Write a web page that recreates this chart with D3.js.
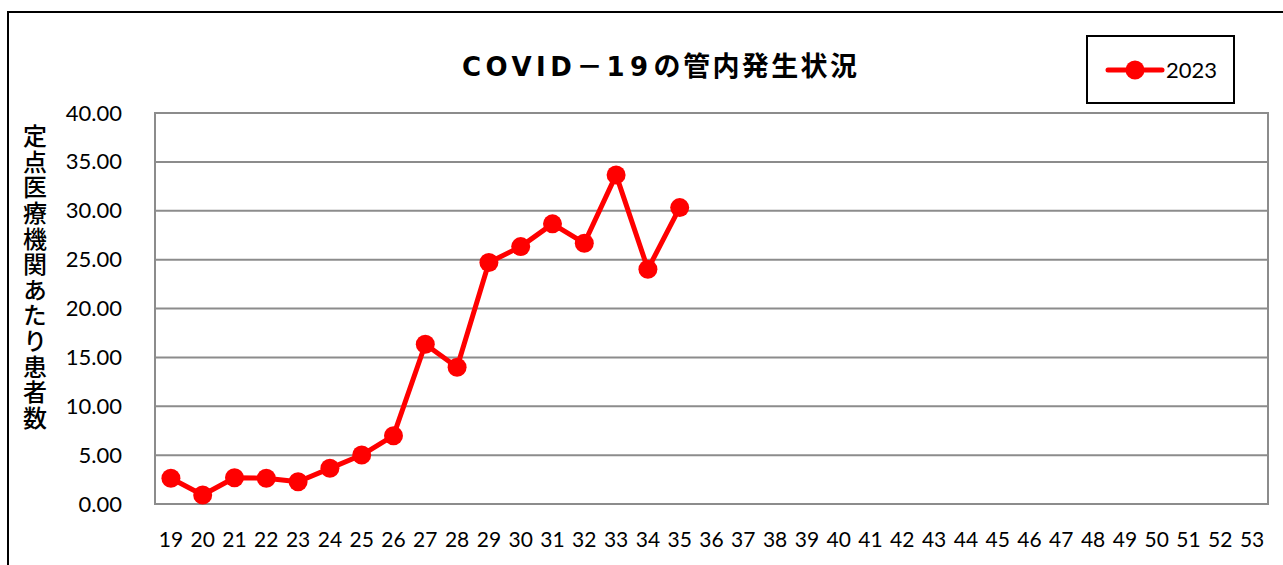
<!DOCTYPE html>
<html>
<head>
<meta charset="utf-8">
<script src="https://cdn.jsdelivr.net/npm/d3@7"></script>
<style>
  body { margin: 0; background: #fff; }
  svg { display: block; }
</style>
</head>
<body>
<div id="chart"></div>
<script>
// week numbers on the x axis
var weeks = d3.range(19, 54).map(String);
// per-sentinel counts, 2023 (weeks 19..35)
var values2023 = [2.63, 0.92, 2.69, 2.63, 2.28, 3.65, 5.01, 6.99, 16.34, 13.99, 24.70, 26.33, 28.66, 26.68, 33.67, 24.02, 30.32];
var yTicks = [0, 5, 10, 15, 20, 25, 30, 35, 40];
var seriesName = "2023";
// title split so the latin part can use a wider face
var titleParts = ["COVID", "－", "19", "の管内発生状況"];
var yTitle = "定点医療機関あたり患者数";

var W = 1283, H = 565;
var margin = {top: 113, right: 15, bottom: 61, left: 155};
var width = W - margin.left - margin.right,
    height = H - margin.top - margin.bottom;

var svg = d3.select("#chart").append("svg")
    .attr("width", W)
    .attr("height", H);

// outer chart frame
svg.append("rect")
    .attr("x", 8).attr("y", 12)
    .attr("width", W + 20).attr("height", H + 20)
    .attr("fill", "none")
    .attr("stroke", "#000")
    .attr("stroke-width", 2);

var latin = "'DejaVu Sans', sans-serif", cjk = "'Noto Sans CJK JP', sans-serif";
var tt = svg.append("text")
    .attr("x", 462).attr("y", 76)
    .style("font-weight", "bold")
    .style("font-size", "26px");
tt.selectAll("tspan").data(titleParts).enter().append("tspan")
    .style("font-family", function(d, i) { return i % 2 === 0 && i < 3 ? latin : cjk; })
    .style("font-size", function(d, i) { return i === 3 ? "27px" : null; })
    .style("letter-spacing", function(d, i) { return ["4.5px", "4px", "5.5px", "2.4px"][i]; })
    .text(function(d) { return d; });

var g = svg.append("g")
    .attr("transform", "translate(" + margin.left + "," + margin.top + ")");

var x = d3.scaleBand().domain(weeks).range([0, width]);
var y = d3.scaleLinear().domain([0, 40]).range([height, 0]);

// gridlines
g.selectAll(".grid").data(yTicks).enter().append("line")
    .attr("x1", 0).attr("x2", width)
    .attr("y1", function(d) { return y(d); })
    .attr("y2", function(d) { return y(d); })
    .style("stroke", "#8c8c8c")
    .style("stroke-width", 2);

// plot area border
g.append("rect")
    .attr("width", width).attr("height", height)
    .attr("fill", "none")
    .style("stroke", "#8c8c8c")
    .style("stroke-width", 2);

var yAxis = d3.axisLeft(y).tickValues(yTicks).tickSize(0).tickPadding(33)
    .tickFormat(d3.format(".2f"));
g.append("g").call(yAxis)
    .call(function(s) { s.select(".domain").remove(); })
    .selectAll("text")
    .style("font-family", "Lato, sans-serif")
    .style("font-size", "22px")
    .attr("fill", "#000");

var xAxis = d3.axisBottom(x).tickSize(0).tickPadding(28);
g.append("g")
    .attr("transform", "translate(0," + height + ")")
    .call(xAxis)
    .call(function(s) { s.select(".domain").remove(); })
    .selectAll("text")
    .style("font-family", "Lato, sans-serif")
    .style("font-size", "21px")
    .attr("fill", "#000");

// y title, written top to bottom
svg.append("text")
    .attr("x", 35).attr("y", 124)
    .style("writing-mode", "vertical-rl")
    .style("font-family", "'Noto Sans CJK JP', sans-serif")
    .style("font-size", "24px")
    .style("font-weight", 500)
    .style("letter-spacing", "1.6px")
    .text(yTitle);

var pts = values2023.map(function(v, i) { return {w: weeks[i], v: v}; });
var line = d3.line()
    .x(function(d) { return x(d.w) + x.bandwidth() / 2; })
    .y(function(d) { return y(d.v); });

g.append("path")
    .datum(pts)
    .attr("d", line)
    .attr("fill", "none")
    .style("stroke", "#ff0000")
    .style("stroke-width", 5)
    .style("stroke-linejoin", "round");

g.selectAll(".pt").data(pts).enter().append("circle")
    .attr("cx", function(d) { return x(d.w) + x.bandwidth() / 2; })
    .attr("cy", function(d) { return y(d.v); })
    .attr("r", 9.5)
    .attr("fill", "#ff0000");

// legend
var lg = svg.append("g");
lg.append("rect")
    .attr("x", 1087).attr("y", 36)
    .attr("width", 147).attr("height", 67)
    .attr("fill", "#fff")
    .attr("stroke", "#000")
    .attr("stroke-width", 2);
lg.append("line")
    .attr("x1", 1108).attr("x2", 1162)
    .attr("y1", 70).attr("y2", 70)
    .style("stroke", "#ff0000")
    .style("stroke-width", 5)
    .style("stroke-linecap", "round");
lg.append("circle")
    .attr("cx", 1135).attr("cy", 70).attr("r", 9.5)
    .attr("fill", "#ff0000");
lg.append("text")
    .attr("x", 1166).attr("y", 78)
    .style("font-family", "Lato, sans-serif")
    .style("font-size", "22px")
    .text(seriesName);
</script>
</body>
</html>
